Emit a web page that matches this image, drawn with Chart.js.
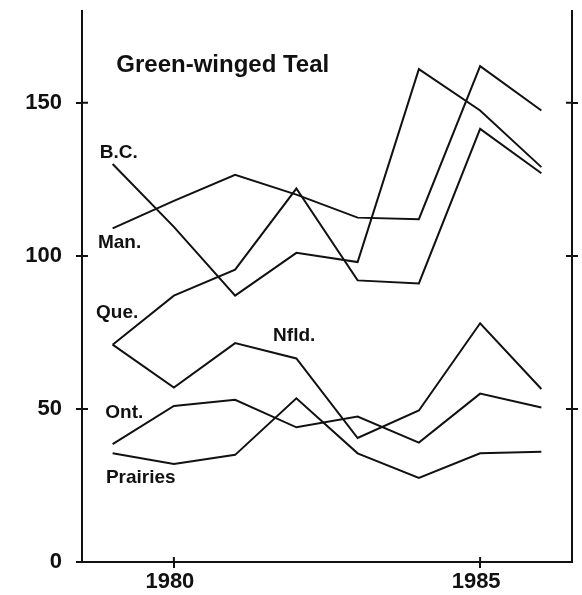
<!DOCTYPE html>
<html>
<head>
<meta charset="utf-8">
<script src="https://cdn.jsdelivr.net/npm/chart.js@4.4.1/dist/chart.umd.min.js"></script>
<style>
  html, body { margin: 0; padding: 0; background: #fff; }
  #wrap { width: 582px; height: 595px; }
</style>
</head>
<body>
<div id="wrap"><canvas id="teal" width="582" height="595"></canvas></div>
<script>
// values
const years = [1979, 1980, 1981, 1982, 1983, 1984, 1985, 1986];
const bc       = [130, 109.5, 87, 101, 98, 161, 147.5, 129];
const man      = [109, 118, 126.5, 120, 112.5, 112, 162, 147.5];
const que      = [71, 87, 95.5, 122, 92, 91, 141.5, 127];
const nfld     = [71, 57, 71.5, 66.5, 40.5, 49.5, 78, 56.5];
const ont      = [38.5, 51, 53, 44, 47.5, 39, 55, 50.5];
const prairies = [35.5, 32, 35, 53.5, 35.5, 27.5, 35.5, 36];

const xTicks = [1980, 1985];
const yTicks = [0, 50, 100, 150];
const yTicksRight = [50, 100, 150];

const INK = '#111';
const FONT = "'Liberation Sans', Arial, Helvetica, sans-serif";

// text placed in data units (left edge, baseline)
const notes = [
  { text: 'Green-winged Teal', x: 1979.06, y: 160.1, size: 24 },
  { text: 'B.C.', x: 1978.79, y: 131.9, size: 19 },
  { text: 'Man.', x: 1978.76, y: 102.5, size: 19 },
  { text: 'Que.', x: 1978.73, y: 79.7, size: 19 },
  { text: 'Nfld.', x: 1981.62, y: 72.2, size: 19 },
  { text: 'Ont.', x: 1978.88, y: 47.0, size: 19 },
  { text: 'Prairies', x: 1978.89, y: 25.8, size: 19 }
];

const toPoints = vals => years.map((yr, i) => ({ x: yr, y: vals[i] }));
const series = [bc, man, que, nfld, ont, prairies].map(vals => ({
  data: toPoints(vals),
  borderColor: INK,
  borderWidth: 2,
  pointRadius: 0,
  tension: 0,
  fill: false,
  borderJoinStyle: 'miter'
}));

// ticks cross the axis: draw the inner halves, plus the text labels
const innerTicks = {
  id: 'innerTicks',
  afterDraw(chart) {
    const { ctx, chartArea, scales } = chart;
    ctx.save();
    ctx.strokeStyle = INK;
    ctx.lineWidth = 2;
    ctx.beginPath();
    xTicks.forEach(v => {
      const px = scales.x.getPixelForValue(v);
      ctx.moveTo(px, chartArea.bottom);
      ctx.lineTo(px, chartArea.bottom - 5);
    });
    yTicks.forEach(v => {
      const py = scales.y.getPixelForValue(v);
      ctx.moveTo(chartArea.left, py);
      ctx.lineTo(chartArea.left + 6, py);
    });
    yTicksRight.forEach(v => {
      const py = scales.y2.getPixelForValue(v);
      ctx.moveTo(chartArea.right, py);
      ctx.lineTo(chartArea.right - 6, py);
    });
    ctx.stroke();

    ctx.fillStyle = INK;
    ctx.textAlign = 'left';
    ctx.textBaseline = 'alphabetic';
    notes.forEach(n => {
      ctx.font = `bold ${n.size}px ${FONT}`;
      ctx.fillText(n.text, scales.x.getPixelForValue(n.x), scales.y.getPixelForValue(n.y));
    });
    ctx.restore();
  }
};

const axisLook = {
  grid: { drawOnChartArea: false, drawTicks: true, tickLength: 6, color: INK, lineWidth: 2 },
  border: { display: true, color: INK, width: 2 }
};

const noPad = s => { s.paddingTop = 0; s.paddingBottom = 0; s.paddingLeft = 0; s.paddingRight = 0; };

new Chart(document.getElementById('teal'), {
  type: 'line',
  data: { datasets: series },
  options: {
    responsive: false,
    animation: false,
    devicePixelRatio: 1,
    layout: { padding: { top: 11, left: 0, right: 0, bottom: 0 } },
    plugins: { legend: { display: false }, tooltip: { enabled: false } },
    scales: {
      x: {
        type: 'linear', position: 'bottom', min: 1978.5, max: 1986.5,
        ...axisLook,
        ticks: {
          color: INK, font: { family: FONT, size: 22, weight: 'bold' }, padding: 1, maxRotation: 0,
          labelOffset: -4,
          callback: v => String(v)
        },
        afterBuildTicks: s => { s.ticks = xTicks.map(v => ({ value: v })); },
        afterFit: s => { s.height = 33; noPad(s); }
      },
      y: {
        type: 'linear', position: 'left', min: 0, max: 180,
        ...axisLook,
        ticks: { color: INK, font: { family: FONT, size: 22, weight: 'bold' }, padding: 14 },
        afterBuildTicks: s => { s.ticks = yTicks.map(v => ({ value: v })); },
        afterFit: s => { s.width = 82; noPad(s); }
      },
      y2: {
        type: 'linear', position: 'right', min: 0, max: 180,
        ...axisLook,
        ticks: { display: false },
        afterBuildTicks: s => { s.ticks = yTicksRight.map(v => ({ value: v })); },
        afterFit: s => { s.width = 10; noPad(s); }
      }
    }
  },
  plugins: [innerTicks]
});
</script>
</body>
</html>
